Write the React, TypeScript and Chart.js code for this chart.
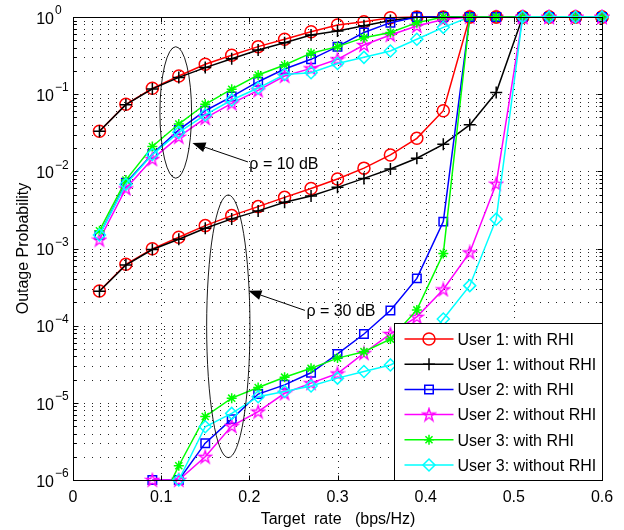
import React, { useEffect, useRef } from "react";
import { Chart, registerables } from "chart.js";

Chart.register(...registerables);

// ---------------- data ----------------
const rates = [0.03, 0.06, 0.09, 0.12, 0.15, 0.18, 0.21, 0.24, 0.27, 0.3, 0.33, 0.36, 0.39, 0.42, 0.45, 0.48, 0.51, 0.54, 0.57, 0.6];

// rho = 10 dB
const u1Rhi10 = [0.033, 0.074, 0.119, 0.172, 0.244, 0.319, 0.413, 0.514, 0.645, 0.79, 0.87, 0.98, 1, 1, 1, 1, 1, 1, 1, 1];
const u1No10 = [0.033, 0.073, 0.117, 0.165, 0.221, 0.288, 0.374, 0.465, 0.585, 0.66, 0.77, 0.9, 0.99, 1, 1, 1, 1, 1, 1, 1];
const u2Rhi10 = [0.0015, 0.0071, 0.0168, 0.0344, 0.061, 0.093, 0.145, 0.212, 0.283, 0.413, 0.63, 0.845, 1, 1, 1, 1, 1, 1, 1, 1];
const u2No10 = [0.0013, 0.006, 0.0144, 0.028, 0.049, 0.076, 0.112, 0.172, 0.216, 0.283, 0.434, 0.585, 0.765, 0.93, 1, 1, 1, 1, 1, 1];
const u3Rhi10 = [0.0017, 0.0077, 0.021, 0.041, 0.074, 0.116, 0.177, 0.239, 0.34, 0.413, 0.54, 0.63, 0.845, 1, 1, 1, 1, 1, 1, 1];
const u3No10 = [0.0015, 0.0068, 0.0165, 0.032, 0.054, 0.084, 0.12, 0.18, 0.19, 0.25, 0.3, 0.363, 0.514, 0.735, 1, 1, 1, 1, 1, 1];

// rho = 30 dB
const u1Rhi30 = [2.82e-4, 6.25e-4, 9.9e-4, 1.4e-3, 1.98e-3, 2.67e-3, 3.49e-3, 4.6e-3, 6.0e-3, 7.97e-3, 0.011, 0.0163, 0.0268, 0.061, 1, 1, 1, 1, 1, 1];
const u1No30 = [2.8e-4, 6.1e-4, 9.7e-4, 1.32e-3, 1.83e-3, 2.42e-3, 3.07e-3, 3.98e-3, 4.8e-3, 6.2e-3, 8.1e-3, 0.0107, 0.0148, 0.0224, 0.04, 0.105, 1, 1, 1, 1];
const u2Rhi30 = [null, null, 1e-6, 1.0e-6, 3.0e-6, 6.15e-6, 1.3e-5, 1.71e-5, 2.45e-5, 4.3e-5, 7.8e-5, 1.57e-4, 4.1e-4, 2.23e-3, 1, 1, 1, 1, 1, 1];
const u2No30 = [null, null, 1e-6, 1.0e-6, 2.0e-6, 5.0e-6, 7.7e-6, 1.33e-5, 1.8e-5, 2.4e-5, 4.4e-5, 7.8e-5, 1.3e-4, 2.95e-4, 8.9e-4, 6.9e-3, 1, 1, 1, 1];
const u3Rhi30 = [null, null, 3e-7, 1.53e-6, 6.65e-6, 1.15e-5, 1.58e-5, 2.15e-5, 2.8e-5, 3.8e-5, 4.6e-5, 6.7e-5, 1.6e-4, 8.6e-4, 1, 1, 1, 1, 1, 1];
const u3No30 = [null, null, null, 1.0e-6, 4.9e-6, 7.3e-6, 1.2e-5, 1.4e-5, 1.65e-5, 2.09e-5, 2.55e-5, 3.1e-5, 4.5e-5, 1.22e-4, 3.3e-4, 2.4e-3, 1, 1, 1, 1];

const seriesLabels = [
  "User 1: with RHI",
  "User 1: without RHI",
  "User 2: with RHI",
  "User 2: without RHI",
  "User 3: with RHI",
  "User 3: without RHI",
];

const xTickValues = [0, 0.1, 0.2, 0.3, 0.4, 0.5, 0.6];
const xTickLabels = ["0", "0.1", "0.2", "0.3", "0.4", "0.5", "0.6"];
const yExponents = [-6, -5, -4, -3, -2, -1, 0];

const axisTitleX = "Target  rate   (bps/Hz)";
const axisTitleY = "Outage Probability";
const rhoLabels = ["\u03c1 = 10 dB", "\u03c1 = 30 dB"];

// ---------------- styles ----------------
const FONT = '"Liberation Sans", Arial, Helvetica, sans-serif';
const colors = ["#ff0000", "#000000", "#0000ff", "#ff00ff", "#00ff00", "#00ffff"];
const markers = ["circle", "plus", "square", "pentagram", "asterisk", "diamond"];

function makePentagram(color: string) {
  const c = document.createElement("canvas");
  c.width = 16;
  c.height = 16;
  const g = c.getContext("2d")!;
  const cx = 8, cy = 8.5, R = 6.6, r = R * 0.382;
  g.beginPath();
  for (let i = 0; i < 10; i++) {
    const ang = -Math.PI / 2 + (i * Math.PI) / 5;
    const rr = i % 2 === 0 ? R : r;
    const px = cx + rr * Math.cos(ang);
    const py = cy + rr * Math.sin(ang);
    if (i === 0) g.moveTo(px, py);
    else g.lineTo(px, py);
  }
  g.closePath();
  g.strokeStyle = color;
  g.lineWidth = 1.4;
  g.stroke();
  return c;
}

function drawMarker(ctx: CanvasRenderingContext2D, kind: string, x: number, y: number, color: string, star: HTMLCanvasElement) {
  ctx.save();
  ctx.strokeStyle = color;
  ctx.lineWidth = 1.5;
  ctx.setLineDash([]);
  ctx.beginPath();
  if (kind === "circle") {
    ctx.arc(x, y, 6, 0, Math.PI * 2);
  } else if (kind === "plus") {
    ctx.moveTo(x - 6, y); ctx.lineTo(x + 6, y);
    ctx.moveTo(x, y - 6); ctx.lineTo(x, y + 6);
  } else if (kind === "square") {
    ctx.rect(x - 4.25, y - 4.25, 8.5, 8.5);
  } else if (kind === "asterisk") {
    const d = 5, e = 5 * Math.SQRT1_2;
    ctx.moveTo(x - d, y); ctx.lineTo(x + d, y);
    ctx.moveTo(x, y - d); ctx.lineTo(x, y + d);
    ctx.moveTo(x - e, y - e); ctx.lineTo(x + e, y + e);
    ctx.moveTo(x - e, y + e); ctx.lineTo(x + e, y - e);
  } else if (kind === "diamond") {
    ctx.moveTo(x, y - 6); ctx.lineTo(x + 6, y); ctx.lineTo(x, y + 6); ctx.lineTo(x - 6, y); ctx.closePath();
  } else if (kind === "pentagram") {
    ctx.drawImage(star, x - star.width / 2, y - star.height / 2);
  }
  ctx.stroke();
  ctx.restore();
}

function App() {
  const ref = useRef<HTMLCanvasElement | null>(null);

  useEffect(() => {
    const canvas = ref.current;
    if (!canvas) return;
    const star = makePentagram("#ff00ff");

    const styleFor = (k: string): any => {
      if (k === "circle") return "circle";
      if (k === "plus") return "cross";
      if (k === "square") return "rect";
      if (k === "asterisk") return "star";
      if (k === "diamond") return "rectRot";
      return star;
    };
    const radiusFor = (k: string) => (k === "asterisk" ? 5 : 6);

    const sets10 = [u1Rhi10, u1No10, u2Rhi10, u2No10, u3Rhi10, u3No10];
    const sets30 = [u1Rhi30, u1No30, u2Rhi30, u2No30, u3Rhi30, u3No30];

    const build = (vals: (number | null)[], i: number, tag: string) => ({
      label: seriesLabels[i] + tag,
      data: rates.map((r, j) => ({ x: r, y: vals[j] })),
      borderColor: colors[i],
      backgroundColor: "rgba(0,0,0,0)",
      borderWidth: 1.5,
      pointStyle: styleFor(markers[i]),
      pointRadius: radiusFor(markers[i]),
      pointBorderColor: colors[i],
      pointBackgroundColor: "rgba(0,0,0,0)",
      pointBorderWidth: 1.5,
      tension: 0,
      clip: vals.some((v) => v !== null && v < 1e-6) ? { left: 10, right: 10, top: 10, bottom: 0 } : false,
    });

    const ordered: any[] = [];
    sets10.forEach((v, i) => ordered.push(build(v, i, "")));
    sets30.forEach((v, i) => ordered.push(build(v, i, " (30)")));
    const datasets = ordered.slice().reverse();

    const decadeValue = (e: number, m: number) => Number(`${m}e${e}`);

    const framePlugin = {
      id: "matlabFrame",
      beforeDatasetsDraw(chart: any) {
        const { ctx, chartArea: a, scales } = chart;
        const xs = scales.x, ys = scales.y;
        ctx.save();
        ctx.strokeStyle = "#222";
        ctx.lineWidth = 1;
        ctx.setLineDash([1, 7]);
        ctx.beginPath();
        for (let e = -6; e <= 0; e++) {
          for (let m = 1; m <= 9; m++) {
            const v = decadeValue(e, m);
            if (v > 1) break;
            const py = Math.round(ys.getPixelForValue(v)) + 0.5;
            if (py <= a.top + 1 || py >= a.bottom - 1) continue;
            ctx.moveTo(a.left + 3, py);
            ctx.lineTo(a.right, py);
          }
        }
        ctx.stroke();
        ctx.setLineDash([1, 5]);
        ctx.beginPath();
        xTickValues.forEach((v) => {
          const px = Math.round(xs.getPixelForValue(v)) + 0.5;
          if (px <= a.left + 1 || px >= a.right - 1) return;
          ctx.moveTo(px, a.bottom);
          ctx.lineTo(px, a.top);
        });
        ctx.stroke();
        ctx.restore();
      },
      afterDatasetsDraw(chart: any) {
        const { ctx, chartArea: a, scales } = chart;
        const xs = scales.x, ys = scales.y;
        const L = Math.round(a.left) + 0.5, R = Math.round(a.right) + 0.5;
        const T = Math.round(a.top) + 0.5, B = Math.round(a.bottom) + 0.5;
        ctx.save();
        ctx.setLineDash([]);
        ctx.strokeStyle = "#000";
        ctx.lineWidth = 1;
        // ticks
        ctx.beginPath();
        xTickValues.forEach((v) => {
          const px = Math.round(xs.getPixelForValue(v)) + 0.5;
          ctx.moveTo(px, B); ctx.lineTo(px, B - 5);
          ctx.moveTo(px, T); ctx.lineTo(px, T + 5);
        });
        for (let e = -6; e <= 0; e++) {
          for (let m = 1; m <= 9; m++) {
            const v = decadeValue(e, m);
            if (v > 1) break;
            const py = Math.round(ys.getPixelForValue(v)) + 0.5;
            const len = m === 1 ? 5 : 3;
            ctx.moveTo(L, py); ctx.lineTo(L + len, py);
            ctx.moveTo(R, py); ctx.lineTo(R - len, py);
          }
        }
        ctx.stroke();
        // box
        ctx.strokeRect(L, T, R - L, B - T);

        // tick labels
        ctx.fillStyle = "#000";
        ctx.font = `16px ${FONT}`;
        ctx.textAlign = "center";
        ctx.textBaseline = "alphabetic";
        xTickValues.forEach((v, i) => {
          const px = xs.getPixelForValue(v);
          ctx.fillText(xTickLabels[i], px, B + 21.5);
        });
        yExponents.forEach((e) => {
          const py = ys.getPixelForValue(Number(`1e${e}`));
          ctx.font = `16px ${FONT}`;
          ctx.textAlign = "right";
          ctx.fillText("10", a.left - 19, py + 6.7);
          ctx.font = `12px ${FONT}`;
          ctx.textAlign = "left";
          ctx.fillText(e < 0 ? "\u2212" + String(-e) : String(e), a.left - 18, py - 2.7);
        });

        // axis titles
        ctx.font = `16px ${FONT}`;
        ctx.textAlign = "center";
        ctx.fillText(axisTitleX, (a.left + a.right) / 2 + 0.5, B + 43);
        ctx.save();
        ctx.translate(28, (a.top + a.bottom) / 2);
        ctx.rotate(-Math.PI / 2);
        ctx.fillText(axisTitleY, 0, 0);
        ctx.restore();

        // annotations (anchored in data coordinates)
        const P = (x: number, y: number) => [xs.getPixelForValue(x), ys.getPixelForValue(y)];
        const ellipse = (x0: number, x1: number, y0: number, y1: number) => {
          const [ax, ay] = P(x0, y0);
          const [bx, by] = P(x1, y1);
          ctx.beginPath();
          ctx.ellipse((ax + bx) / 2, (ay + by) / 2, Math.abs(bx - ax) / 2, Math.abs(by - ay) / 2, 0, 0, Math.PI * 2);
          ctx.strokeStyle = "#000";
          ctx.lineWidth = 0.9;
          ctx.stroke();
        };
        const arrow = (x0: number, y0: number, x1: number, y1: number) => {
          const [tx, ty] = P(x0, y0);
          const [hx, hy] = P(x1, y1);
          const ang = Math.atan2(hy - ty, hx - tx);
          const len = 13, hw = 5;
          const bx = hx - len * Math.cos(ang), by = hy - len * Math.sin(ang);
          ctx.beginPath();
          ctx.moveTo(tx, ty);
          ctx.lineTo(bx, by);
          ctx.strokeStyle = "#000";
          ctx.lineWidth = 1;
          ctx.stroke();
          ctx.beginPath();
          ctx.moveTo(hx, hy);
          ctx.lineTo(bx + hw * Math.sin(ang), by - hw * Math.cos(ang));
          ctx.lineTo(bx - hw * Math.sin(ang), by + hw * Math.cos(ang));
          ctx.closePath();
          ctx.fillStyle = "#000";
          ctx.fill();
        };
        ellipse(0.0986, 0.1345, 0.412, 0.00814);
        ellipse(0.1516, 0.2007, 4.94e-3, 1.95e-6);
        arrow(0.1984, 0.01324, 0.1355, 0.02333);
        arrow(0.263, 1.578e-4, 0.199, 2.825e-4);
        ctx.font = `16px ${FONT}`;
        ctx.textAlign = "left";
        ctx.fillStyle = "#000";
        {
          const [px, py] = P(0.2, 0.01285);
          ctx.fillText(rhoLabels[0], px, py + 5.7);
          const [qx, qy] = P(0.2647, 1.563e-4);
          ctx.fillText(rhoLabels[1], qx, qy + 5.7);
        }

        // legend box (bottom-right inside axes)
        const lw = 208, lh = 157;
        const lx = R - lw, ly = B - lh;
        ctx.fillStyle = "#fff";
        ctx.fillRect(lx, ly, lw, lh);
        ctx.strokeStyle = "#000";
        ctx.lineWidth = 1;
        ctx.strokeRect(lx, ly, lw, lh);
        seriesLabels.forEach((lab, i) => {
          const cy = ly + 15.5 + i * 25.2;
          ctx.beginPath();
          ctx.moveTo(lx + 10, cy);
          ctx.lineTo(lx + 59, cy);
          ctx.strokeStyle = colors[i];
          ctx.lineWidth = 1.5;
          ctx.stroke();
          drawMarker(ctx, markers[i], lx + 34.5, cy, colors[i], star);
          ctx.fillStyle = "#000";
          ctx.font = `16px ${FONT}`;
          ctx.textAlign = "left";
          ctx.fillText(lab, lx + 63, cy + 5.7);
        });
        ctx.restore();
      },
    };

    const chart = new Chart(canvas, {
      type: "line",
      data: { datasets },
      options: {
        responsive: false,
        animation: false,
        events: [],
        layout: { padding: { top: 17, right: 22, left: 0, bottom: 0 } },
        plugins: { legend: { display: false }, tooltip: { enabled: false }, title: { display: false } },
        scales: {
          x: {
            type: "linear",
            min: 0,
            max: 0.6,
            grid: { display: false },
            border: { display: false },
            ticks: { display: false },
            afterFit: (s: any) => { s.height = 50; },
          },
          y: {
            type: "logarithmic",
            min: 1e-6,
            max: 1,
            grid: { display: false },
            border: { display: false },
            ticks: { display: false },
            afterFit: (s: any) => { s.width = 73; },
          },
        },
      },
      plugins: [framePlugin],
    });
    return () => chart.destroy();
  }, []);

  return (
    <div style={{ position: "fixed", left: 0, top: 0, width: 624, height: 530, background: "#fff" }}>
      <canvas ref={ref} width={624} height={530} style={{ width: 624, height: 530, display: "block" }} />
    </div>
  );
}

export default App;
